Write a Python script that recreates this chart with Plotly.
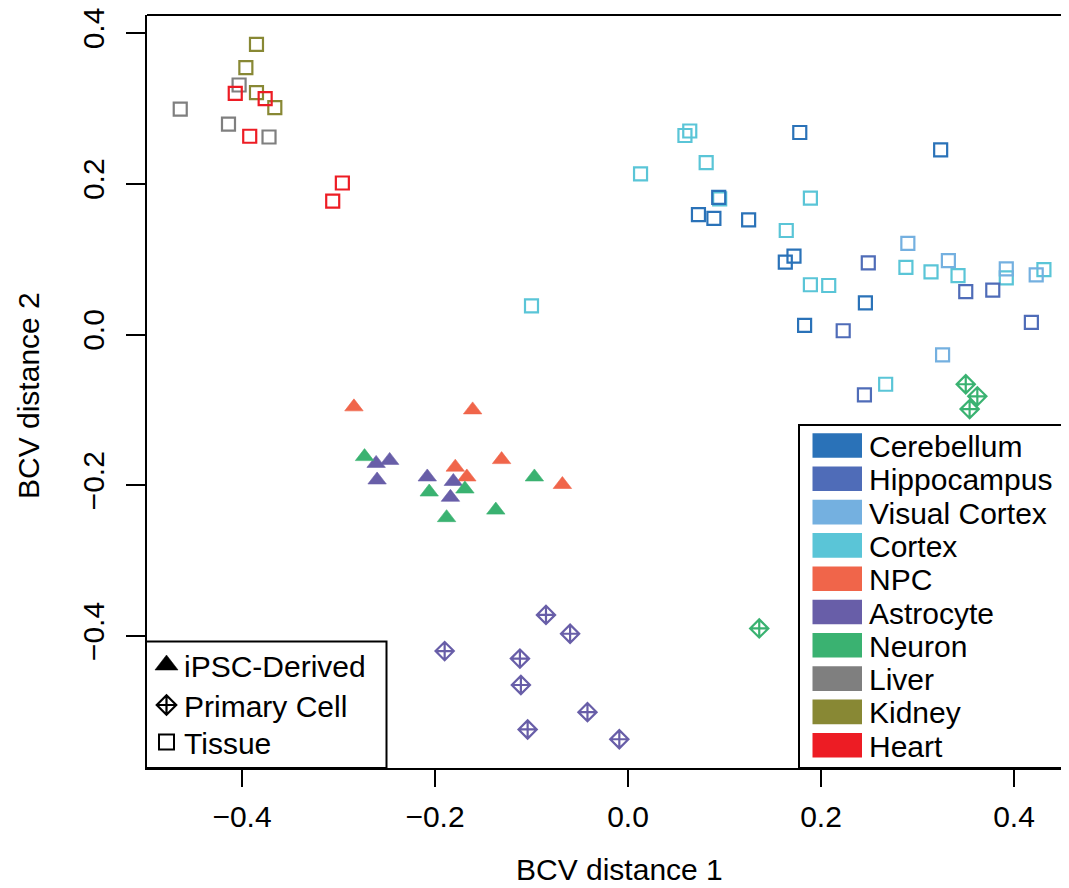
import plotly.graph_objects as go

# ---------------- data ----------------
CATEGORIES = ["Cerebellum", "Hippocampus", "Visual Cortex", "Cortex", "NPC",
              "Astrocyte", "Neuron", "Liver", "Kidney", "Heart"]
COLORS = ["#2A72B8", "#4F6CB8", "#74B0E0", "#5AC5D7", "#F0654A",
          "#685EA8", "#3AB271", "#7F7F7F", "#888834", "#ED1C24"]
SAMPLE_TYPES = ["iPSC-Derived", "Primary Cell", "Tissue"]

X_TICKS = [-0.4, -0.2, 0.0, 0.2, 0.4]
X_TICK_LABELS = ["\u22120.4", "\u22120.2", "0.0", "0.2", "0.4"]
Y_TICKS = [-0.4, -0.2, 0.0, 0.2, 0.4]
Y_TICK_LABELS = ["\u22120.4", "\u22120.2", "0.0", "0.2", "0.4"]

# Tissue samples
CEREBELLUM_X = [0.178, 0.324, 0.094, 0.073, 0.089, 0.125, 0.172, 0.163, 0.246, 0.183]
CEREBELLUM_Y = [0.268, 0.245, 0.182, 0.159, 0.154, 0.152, 0.104, 0.096, 0.042, 0.012]
HIPPOCAMPUS_X = [0.249, 0.350, 0.378, 0.418, 0.223, 0.245]
HIPPOCAMPUS_Y = [0.095, 0.057, 0.059, 0.016, 0.005, -0.080]
VISUAL_CORTEX_X = [0.290, 0.332, 0.392, 0.423, 0.326]
VISUAL_CORTEX_Y = [0.121, 0.098, 0.087, 0.079, -0.027]
CORTEX_X = [0.064, 0.059, 0.081, 0.013, 0.095, 0.189, 0.164, 0.189, 0.208,
            0.288, 0.314, 0.342, 0.392, 0.431, 0.267, -0.100]
CORTEX_Y = [0.270, 0.264, 0.228, 0.213, 0.180, 0.181, 0.138, 0.066, 0.065,
            0.089, 0.083, 0.078, 0.075, 0.086, -0.066, 0.038]
LIVER_X = [-0.403, -0.464, -0.414, -0.372]
LIVER_Y = [0.331, 0.299, 0.279, 0.262]
KIDNEY_X = [-0.385, -0.396, -0.385, -0.366]
KIDNEY_Y = [0.385, 0.354, 0.321, 0.301]
HEART_X = [-0.407, -0.376, -0.392, -0.296, -0.306]
HEART_Y = [0.320, 0.313, 0.263, 0.201, 0.177]

# iPSC-derived samples
NPC_IPSC_X = [-0.284, -0.161, -0.179, -0.131, -0.167, -0.068]
NPC_IPSC_Y = [-0.096, -0.100, -0.176, -0.166, -0.189, -0.199]
ASTRO_IPSC_X = [-0.261, -0.247, -0.260, -0.208, -0.181, -0.184]
ASTRO_IPSC_Y = [-0.171, -0.167, -0.193, -0.189, -0.195, -0.216]
NEURON_IPSC_X = [-0.273, -0.206, -0.169, -0.097, -0.137, -0.188]
NEURON_IPSC_Y = [-0.162, -0.209, -0.205, -0.189, -0.233, -0.243]

# Primary cell samples
ASTRO_PRIMARY_X = [-0.085, -0.060, -0.190, -0.112, -0.111, -0.042, -0.104, -0.009]
ASTRO_PRIMARY_Y = [-0.372, -0.397, -0.420, -0.430, -0.465, -0.501, -0.524, -0.537]
NEURON_PRIMARY_X = [0.350, 0.362, 0.354, 0.136]
NEURON_PRIMARY_Y = [-0.066, -0.082, -0.099, -0.390]

# ---------------- styling ----------------
FONT = "Liberation Sans, Arial, Helvetica, sans-serif"
TXT = 30
COL = dict(zip(CATEGORIES, COLORS))
SYMBOL = {"iPSC-Derived": "triangle-up", "Primary Cell": "diamond-cross-open",
          "Tissue": "square-open"}

# the page body adds an 8px margin; compensate so the plot box lands where intended
BODY = 8
SCREEN_W, SCREEN_H = 1069, 888
PLOT_L, PLOT_R, PLOT_T, PLOT_B = 147, 1069, 15, 768      # screen pixels of the plot box
W, H = SCREEN_W - BODY, SCREEN_H - BODY
ML, MT = PLOT_L - BODY, PLOT_T - BODY
MR = W - (PLOT_R - BODY)
MB = H - (PLOT_B - BODY)

fig = go.Figure()


def add_group(xs, ys, cat, stype):
    sym = SYMBOL[stype]
    if stype == "iPSC-Derived":
        marker = dict(symbol=sym, size=16, color=COL[cat],
                      line=dict(width=0.6, color=COL[cat]))
    elif stype == "Primary Cell":
        marker = dict(symbol=sym, size=14, color=COL[cat],
                      line=dict(width=2.2, color=COL[cat]))
    else:
        marker = dict(symbol=sym, size=13, color=COL[cat],
                      line=dict(width=2.2, color=COL[cat]))
    fig.add_trace(go.Scatter(x=xs, y=ys, mode="markers", marker=marker,
                             name=f"{cat} ({stype})", showlegend=False,
                             hoverinfo="x+y+name"))


add_group(LIVER_X, LIVER_Y, "Liver", "Tissue")
add_group(KIDNEY_X, KIDNEY_Y, "Kidney", "Tissue")
add_group(HEART_X, HEART_Y, "Heart", "Tissue")
add_group(CORTEX_X, CORTEX_Y, "Cortex", "Tissue")
add_group(VISUAL_CORTEX_X, VISUAL_CORTEX_Y, "Visual Cortex", "Tissue")
add_group(CEREBELLUM_X, CEREBELLUM_Y, "Cerebellum", "Tissue")
add_group(HIPPOCAMPUS_X, HIPPOCAMPUS_Y, "Hippocampus", "Tissue")
add_group(NPC_IPSC_X, NPC_IPSC_Y, "NPC", "iPSC-Derived")
add_group(ASTRO_IPSC_X, ASTRO_IPSC_Y, "Astrocyte", "iPSC-Derived")
add_group(NEURON_IPSC_X, NEURON_IPSC_Y, "Neuron", "iPSC-Derived")
add_group(ASTRO_PRIMARY_X, ASTRO_PRIMARY_Y, "Astrocyte", "Primary Cell")
add_group(NEURON_PRIMARY_X, NEURON_PRIMARY_Y, "Neuron", "Primary Cell")

# ---------------- legends (drawn on a pixel-space overlay axis) ----------------
shapes = []
annotations = []

# colour legend (bottom right)
shapes.append(dict(type="rect", xref="x2", yref="y2", x0=799, x1=1090, y0=425, y1=768,
                   line=dict(color="black", width=2), fillcolor="white", layer="below"))
ROW0, ROWSTEP = 445.5, 33.3
for i, (cat, c) in enumerate(zip(CATEGORIES, COLORS)):
    yc = ROW0 + i * ROWSTEP
    shapes.append(dict(type="rect", xref="x2", yref="y2", x0=812.5, x1=862,
                       y0=yc - 12.3, y1=yc + 12.3, fillcolor=c,
                       line=dict(width=0), layer="above"))
    annotations.append(dict(xref="x2", yref="y2", x=867, y=yc + 1, text=cat,
                            showarrow=False, xanchor="left", yanchor="middle",
                            font=dict(family=FONT, size=TXT, color="black")))

# sample-type legend (bottom left)
shapes.append(dict(type="rect", xref="x2", yref="y2", x0=146, x1=386.5, y0=641.5, y1=768,
                   line=dict(color="black", width=2), fillcolor="white", layer="below"))
LEG2_Y = [665, 705, 742]
fig.add_trace(go.Scatter(x=[166.5], y=[LEG2_Y[0]], xaxis="x2", yaxis="y2", mode="markers",
                         marker=dict(symbol="triangle-up", size=20, color="black",
                                     line=dict(width=0.5, color="black")),
                         showlegend=False, hoverinfo="skip", cliponaxis=False))
fig.add_trace(go.Scatter(x=[166.5], y=[LEG2_Y[1]], xaxis="x2", yaxis="y2", mode="markers",
                         marker=dict(symbol="diamond-cross-open", size=15, color="black",
                                     line=dict(width=2.2, color="black")),
                         showlegend=False, hoverinfo="skip", cliponaxis=False))
fig.add_trace(go.Scatter(x=[166.5], y=[LEG2_Y[2]], xaxis="x2", yaxis="y2", mode="markers",
                         marker=dict(symbol="square-open", size=15, color="black",
                                     line=dict(width=2, color="black")),
                         showlegend=False, hoverinfo="skip", cliponaxis=False))
for st, yc in zip(SAMPLE_TYPES, LEG2_Y):
    annotations.append(dict(xref="x2", yref="y2", x=182, y=yc + 1, text=st,
                            showarrow=False, xanchor="left", yanchor="middle",
                            font=dict(family=FONT, size=TXT, color="black")))

# top border of the plot box
shapes.append(dict(type="line", xref="paper", yref="paper", x0=0, x1=1, y0=1, y1=1,
                   line=dict(color="black", width=2)))

plot_w = PLOT_R - PLOT_L
plot_h = PLOT_B - PLOT_T


def px_to_paper_x(px):
    return (px - PLOT_L) / plot_w


def px_to_paper_y(py):
    return (PLOT_B - py) / plot_h


# axis titles
annotations.append(dict(xref="paper", yref="paper", x=px_to_paper_x(619), y=px_to_paper_y(870),
                        text="BCV distance 1", showarrow=False, xanchor="center",
                        yanchor="middle", font=dict(family=FONT, size=TXT, color="black")))
annotations.append(dict(xref="paper", yref="paper", x=px_to_paper_x(28), y=px_to_paper_y(395),
                        text="BCV distance 2", showarrow=False, xanchor="center",
                        yanchor="middle", textangle=-90,
                        font=dict(family=FONT, size=TXT, color="black")))

x_px_per_unit = 965.0
y_px_per_unit = 753.75
x_zero_px, y_zero_px = 628.0, 334.5
x_range = [(PLOT_L - x_zero_px) / x_px_per_unit, (PLOT_R - x_zero_px) / x_px_per_unit]
y_range = [(y_zero_px - PLOT_B) / y_px_per_unit, (y_zero_px - PLOT_T) / y_px_per_unit]

fig.update_layout(
    width=W, height=H,
    margin=dict(l=ML, r=MR, t=MT, b=MB, pad=0, autoexpand=False),
    paper_bgcolor="white", plot_bgcolor="white",
    showlegend=False,
    font=dict(family=FONT, size=TXT, color="black"),
    xaxis=dict(range=x_range, tickvals=X_TICKS, ticktext=X_TICK_LABELS,
               showgrid=False, zeroline=False, showline=True, linecolor="black",
               linewidth=2, ticks="outside", ticklen=17, tickwidth=2, tickcolor="black",
               tickfont=dict(family=FONT, size=TXT), ticklabelstandoff=4,
               ticklabeloverflow="allow"),
    yaxis=dict(range=y_range, tickvals=Y_TICKS, ticktext=Y_TICK_LABELS,
               showgrid=False, zeroline=False, showline=True, linecolor="black",
               linewidth=2, ticks="outside", ticklen=19, tickwidth=2, tickcolor="black",
               tickangle=-90, tickfont=dict(family=FONT, size=TXT), ticklabelstandoff=10,
               ticklabeloverflow="allow"),
    xaxis2=dict(range=[PLOT_L, PLOT_R], overlaying="x", anchor="y2", visible=False,
                showgrid=False, zeroline=False),
    yaxis2=dict(range=[PLOT_B, PLOT_T], overlaying="y", anchor="x2", visible=False,
                showgrid=False, zeroline=False),
    shapes=shapes,
    annotations=annotations,
)

fig.write_html("out.html")
